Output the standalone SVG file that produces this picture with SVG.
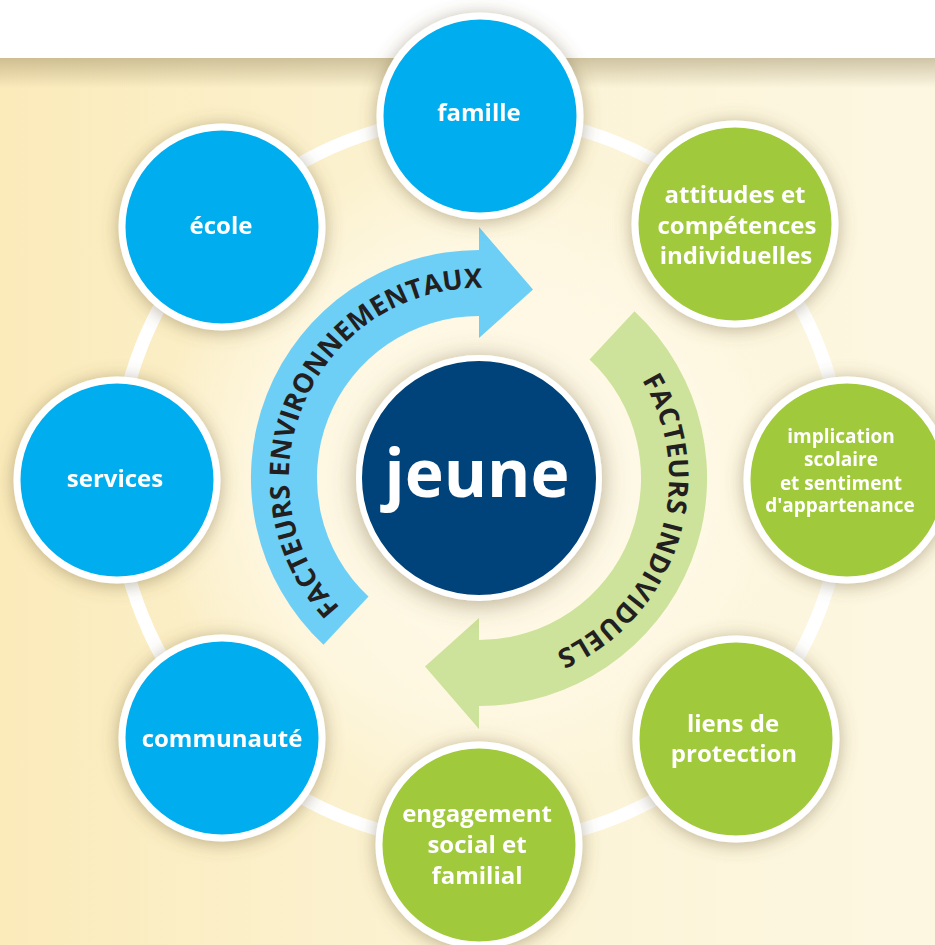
<svg xmlns="http://www.w3.org/2000/svg" width="935" height="945" viewBox="0 0 935 945">
<defs>
<linearGradient id="bg" x1="0" y1="0" x2="1" y2="0">
<stop offset="0" stop-color="#fbebbb"/>
<stop offset="0.5" stop-color="#fcf3d4"/>
<stop offset="1" stop-color="#fdf7e2"/>
</linearGradient>
<radialGradient id="glow" cx="478" cy="478" r="330" gradientUnits="userSpaceOnUse">
<stop offset="0" stop-color="#fffcf0" stop-opacity="0.9"/>
<stop offset="0.7" stop-color="#fffaea" stop-opacity="0.6"/>
<stop offset="1" stop-color="#fffaea" stop-opacity="0"/>
</radialGradient>
<linearGradient id="topShade" x1="0" y1="0" x2="0" y2="1">
<stop offset="0" stop-color="#8a7a50" stop-opacity="0.4"/>
<stop offset="1" stop-color="#8a7a50" stop-opacity="0"/>
</linearGradient>
<filter id="sh" x="-30%" y="-30%" width="160%" height="160%">
<feDropShadow dx="0" dy="2" stdDeviation="9" flood-color="#6b5a30" flood-opacity="0.45"/>
</filter>
<filter id="shBig" x="-30%" y="-30%" width="160%" height="160%">
<feDropShadow dx="0" dy="3" stdDeviation="12" flood-color="#6b5a30" flood-opacity="0.5"/>
</filter>
<path id="arcBlue" d="M340,607.6 A190,190 0 0 1 482.3,288"/>
<path id="arcGreen" d="M641.9,380.1 A190,190 0 0 1 556.3,651.6"/>
</defs>
<style>
.node { stroke:#ffffff; stroke-width:7; }
.blue { fill:#00aeef; }
.green { fill:#a0c93a; }
.lbl { font-family:"Open Sans","DejaVu Sans",sans-serif; font-weight:700; fill:#ffffff; text-anchor:middle; font-size:24px; }
.small { font-size:19px; }
.arc { font-family:"Open Sans","DejaVu Sans",sans-serif; font-weight:700; fill:#231f20; font-size:27px; }
</style>
<rect x="0" y="0" width="935" height="945" fill="#ffffff"/>
<rect x="0" y="58" width="935" height="887" fill="url(#bg)"/>
<rect x="0" y="58" width="935" height="887" fill="url(#glow)"/>
<rect x="0" y="58" width="935" height="30" fill="url(#topShade)"/>

<g id="connectors">
<circle cx="480" cy="480" r="364" fill="none" stroke="#ffffff" stroke-width="13"/>
</g>

<g id="arrow-environnementaux">
<path d="M323.5,644.8 A228,228 0 0 1 479,250 L479,227 L533,289.6 L479,338 L479,316 A162,162 0 0 0 368.5,596.5 Z" fill="#6dcff6"/>
<text class="arc"><textPath href="#arcBlue" textLength="444" lengthAdjust="spacing">FACTEURS ENVIRONNEMENTAUX</textPath></text>
</g>
<g id="arrow-individuels">
<path d="M634.5,311.2 A228,228 0 0 1 479,706 L479,729 L425,666.4 L479,618 L479,640 A162,162 0 0 0 589.5,359.5 Z" fill="#cde29b"/>
<text class="arc"><textPath href="#arcGreen" textLength="322" lengthAdjust="spacing">FACTEURS INDIVIDUELS</textPath></text>
</g>

<g id="jeune" filter="url(#shBig)">
<circle cx="479" cy="478" r="120" fill="#00437a" stroke="#ffffff" stroke-width="6"/>
<text x="477" y="497" font-family="Open Sans, DejaVu Sans, sans-serif" font-weight="700" font-size="66" fill="#ffffff" text-anchor="middle">jeune</text>
</g>

<g id="famille" filter="url(#sh)">
<circle class="node blue" cx="480" cy="116" r="100"/>
<text class="lbl" x="479" y="121">famille</text>
</g>
<g id="attitudes" filter="url(#sh)">
<circle class="node green" cx="735" cy="224" r="100"/>
<text class="lbl" x="735" y="203">attitudes et</text>
<text class="lbl" x="737" y="234">compétences</text>
<text class="lbl" x="736" y="264">individuelles</text>
</g>
<g id="implication" filter="url(#sh)">
<circle class="node green" cx="847" cy="480" r="100"/>
<text class="lbl small" x="841" y="443">implication</text>
<text class="lbl small" x="841" y="466">scolaire</text>
<text class="lbl small" x="841" y="490">et sentiment</text>
<text class="lbl small" x="840" y="512">d'appartenance</text>
</g>
<g id="liens" filter="url(#sh)">
<circle class="node green" cx="736" cy="739" r="100"/>
<text class="lbl" x="733" y="732">liens de</text>
<text class="lbl" x="734" y="762">protection</text>
</g>
<g id="engagement" filter="url(#sh)">
<circle class="node green" cx="479" cy="845" r="100"/>
<text class="lbl" x="477" y="822">engagement</text>
<text class="lbl" x="477" y="853">social et</text>
<text class="lbl" x="477" y="884">familial</text>
</g>
<g id="communaute" filter="url(#sh)">
<circle class="node blue" cx="222" cy="738" r="100"/>
<text class="lbl" x="222" y="747">communauté</text>
</g>
<g id="services" filter="url(#sh)">
<circle class="node blue" cx="117" cy="480" r="100"/>
<text class="lbl" x="115" y="487">services</text>
</g>
<g id="ecole" filter="url(#sh)">
<circle class="node blue" cx="222" cy="227" r="100"/>
<text class="lbl" x="221" y="234">école</text>
</g>
</svg>
